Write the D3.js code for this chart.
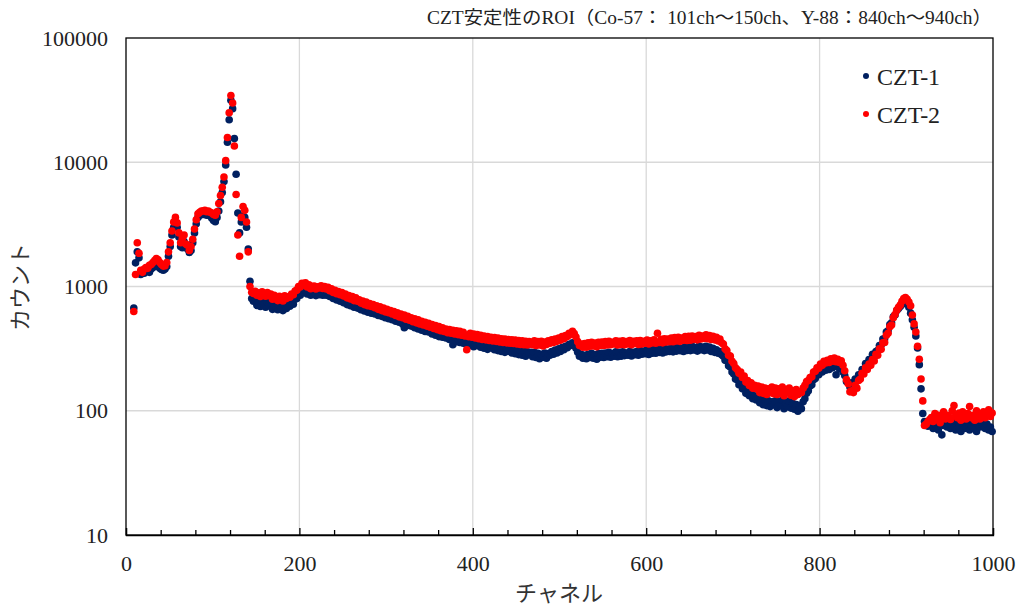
<!DOCTYPE html>
<html>
<head>
<meta charset="utf-8">
<script src="https://cdn.jsdelivr.net/npm/d3@7/dist/d3.min.js"></script>
<style>
	body { margin: 0; background: #fff; }
	svg { display: block; }
</style>
</head>
<body>
<svg id="chart" width="1022" height="609"></svg>
<script>
// Spectrum bins: every 2nd channel, starting at ch 9
var FIRST_CH = 9;
var CH_STEP = 2;

var TITLE = "CZT安定性のROI（Co-57： 101ch～150ch、Y-88：840ch～940ch）";
var SERIES_NAMES = ["CZT-1", "CZT-2"];
var SERIES_COLORS = ["#002060", "#ff0000"];
var X_TICKS = [0, 200, 400, 600, 800, 1000];
var X_MINOR = [40, 80, 120, 160, 240, 280, 320, 360, 440, 480, 520, 560, 640, 680, 720, 760, 840, 880, 920, 960];
var Y_TICKS = [10, 100, 1000, 10000, 100000];

// counts, 10 bins (20 channels) per row
var CZT1 = [
	670, 1550, 1900, 1700, 1250, 1300, 1280, 1320, 1350, 1300,
	1380, 1420, 1450, 1480, 1450, 1400, 1370, 1350, 1380, 1450,
	1750, 2100, 2600, 3000, 3200, 3000, 2500, 2100, 2050, 2300,
	2100, 2000, 1880, 1950, 2250, 2700, 3200, 3600, 3750, 3800,
	3800, 3850, 3750, 3800, 3700, 3550, 3400, 3320, 3600, 4050,
	4800, 5700, 7000, 9500, 14500, 22000, 31500, 27000, 15500, 8000,
	3900, 2700, 3300, 3700, 3600, 3000, 2000, 1100, 800, 760,
	780, 705, 745, 690, 760, 715, 680, 750, 700, 735,
	655, 720, 690, 650, 705, 675, 640, 710, 665, 700,
	695, 745, 720, 790, 800, 860, 850, 920, 895, 935,
	870, 905, 850, 880, 895, 845, 880, 860, 900, 850,
	900, 850, 880, 830, 855, 800, 835, 780, 805, 760,
	790, 740, 765, 715, 745, 700, 730, 680, 710, 670,
	690, 650, 675, 635, 665, 620, 650, 610, 640, 600,
	625, 585, 610, 575, 600, 560, 590, 550, 575, 540,
	565, 525, 555, 515, 540, 500, 465, 520, 485, 510,
	480, 505, 465, 490, 455, 480, 445, 470, 435, 460,
	430, 450, 415, 440, 405, 430, 395, 420, 390, 410,
	385, 405, 375, 395, 340, 385, 360, 380, 355, 375,
	350, 370, 340, 362, 335, 355, 328, 350, 335, 345,
	325, 345, 318, 340, 312, 335, 322, 340, 310, 330,
	305, 328, 300, 322, 295, 318, 302, 315, 292, 310,
	288, 310, 283, 305, 280, 302, 275, 298, 285, 295,
	272, 295, 268, 290, 262, 285, 270, 292, 265, 288,
	280, 300, 285, 308, 292, 315, 300, 322, 310, 330,
	322, 342, 335, 352, 340, 318, 295, 275, 285, 265,
	280, 262, 285, 268, 290, 265, 282, 260, 288, 270,
	290, 268, 292, 272, 295, 270, 288, 275, 298, 272,
	295, 275, 298, 278, 292, 280, 300, 276, 296, 282,
	300, 280, 305, 285, 302, 288, 310, 284, 306, 290,
	312, 290, 315, 295, 310, 292, 318, 298, 314, 300,
	320, 298, 322, 302, 325, 305, 318, 300, 328, 306,
	325, 305, 330, 308, 322, 302, 332, 310, 326, 305,
	330, 308, 326, 300, 318, 295, 310, 290, 300, 282,
	275, 255, 252, 230, 225, 205, 198, 180, 178, 162,
	165, 150, 152, 138, 142, 132, 138, 125, 132, 122,
	128, 116, 125, 112, 122, 110, 120, 108, 118, 112,
	120, 106, 118, 110, 122, 104, 116, 108, 120, 105,
	115, 103, 112, 99, 110, 104, 118, 125, 138, 145,
	158, 162, 178, 182, 198, 195, 210, 205, 218, 212,
	222, 215, 230, 222, 232, 195, 228, 218, 220, 205,
	192, 172, 168, 155, 168, 165, 180, 175, 195, 195,
	215, 212, 240, 232, 258, 252, 285, 275, 300, 305,
	335, 338, 378, 380, 430, 440, 495, 510, 570, 590,
	640, 665, 690, 715, 740, 750, 730, 680, 610, 540,
	470, 400, 320, 235, 150, 95, 82, 78, 75, 80,
	78, 72, 80, 75, 70, 82, 64, 76, 80, 74,
	78, 72, 82, 76, 70, 80, 74, 68, 78, 72,
	74, 80, 70, 76, 82, 72, 68, 78, 74, 80,
	76, 72, 78, 70, 74, 68
];

var CZT2 = [
	630, 1250, 2250, 1850, 1350, 1300, 1380, 1420, 1400, 1480,
	1500, 1560, 1620, 1680, 1640, 1560, 1500, 1460, 1470, 1560,
	1900, 2250, 2800, 3300, 3600, 3250, 2700, 2250, 2450, 2600,
	2200, 2150, 1950, 2100, 2400, 2900, 3450, 3850, 3950, 4050,
	4050, 4100, 4000, 4050, 3950, 3900, 3800, 3750, 4000, 4650,
	5400, 6300, 7600, 10300, 15800, 25000, 34500, 30000, 13500, 5500,
	2600, 1750, 3600, 4400, 4100, 3300, 1900, 1000, 900, 880,
	915, 850, 890, 830, 905, 860, 835, 895, 845, 870,
	790, 850, 800, 770, 835, 795, 765, 840, 800, 825,
	820, 870, 860, 920, 935, 1000, 990, 1060, 1030, 1070,
	990, 1030, 960, 1000, 1010, 955, 995, 975, 1015, 965,
	1000, 955, 985, 925, 960, 895, 930, 875, 910, 860,
	895, 840, 870, 810, 845, 795, 830, 770, 810, 760,
	780, 735, 765, 715, 750, 700, 730, 690, 715, 675,
	700, 655, 685, 640, 670, 625, 655, 615, 640, 600,
	630, 585, 615, 570, 600, 560, 590, 545, 575, 535,
	560, 520, 550, 510, 540, 500, 525, 490, 515, 480,
	505, 470, 495, 460, 485, 450, 475, 440, 465, 435,
	455, 425, 450, 420, 445, 415, 440, 410, 435, 405,
	428, 400, 310, 395, 420, 390, 415, 385, 410, 380,
	405, 375, 400, 372, 395, 368, 390, 365, 388, 362,
	385, 358, 380, 355, 378, 352, 375, 350, 372, 348,
	370, 345, 368, 342, 365, 340, 362, 338, 360, 345,
	340, 365, 335, 360, 338, 362, 332, 358, 342, 365,
	350, 372, 355, 378, 362, 385, 370, 395, 380, 402,
	395, 420, 410, 435, 418, 392, 360, 335, 345, 325,
	348, 325, 352, 330, 355, 332, 350, 328, 356, 335,
	358, 335, 360, 338, 362, 340, 355, 345, 365, 338,
	362, 342, 365, 340, 360, 345, 368, 340, 362, 348,
	365, 342, 368, 345, 362, 350, 370, 345, 366, 352,
	372, 350, 420, 355, 376, 352, 380, 358, 378, 360,
	385, 360, 388, 365, 390, 362, 385, 370, 395, 368,
	398, 370, 400, 375, 395, 372, 405, 378, 400, 382,
	408, 380, 402, 375, 398, 372, 390, 365, 378, 352,
	345, 315, 305, 280, 275, 250, 240, 222, 215, 200,
	205, 185, 190, 170, 175, 160, 168, 152, 160, 150,
	158, 140, 155, 138, 152, 135, 150, 140, 155, 137,
	152, 135, 150, 138, 155, 132, 148, 140, 152, 133,
	145, 130, 148, 135, 142, 140, 152, 160, 172, 175,
	185, 188, 205, 208, 222, 220, 238, 232, 250, 242,
	255, 245, 262, 250, 265, 248, 260, 245, 252, 232,
	210, 178, 165, 142, 145, 140, 160, 152, 175, 180,
	200, 198, 222, 215, 238, 232, 258, 252, 285, 280,
	315, 312, 352, 355, 405, 420, 475, 490, 560, 595,
	645, 680, 708, 760, 800, 816, 790, 750, 700, 590,
	500, 430, 330, 260, 180, 120, 76, 78, 82, 85,
	88, 82, 95, 85, 92, 80, 90, 98, 86, 92,
	90, 85, 100, 110, 92, 88, 96, 84, 98, 90,
	86, 95, 108, 88, 92, 84, 100, 90, 86, 94,
	98, 88, 92, 102, 90, 96
];


var LATIN_FONT = "'Liberation Serif', 'DejaVu Serif', serif";
var JP_FONT = "'Noto Sans CJK JP', sans-serif";

function drawChart() {
	var svg = d3.select("#chart"),
		margin = { top: 38, right: 29, bottom: 74, left: 126 },
		width = +svg.attr("width") - margin.left - margin.right,
		height = +svg.attr("height") - margin.top - margin.bottom,
		g = svg.append("g").attr("transform", "translate(" + margin.left + "," + margin.top + ")");

	var x = d3.scaleLinear().domain([0, 1000]).range([0, width]);
	var y = d3.scaleLog().domain([10, 100000]).range([height, 0]);

	// gridlines
	g.append("g")
		.selectAll("line")
		.data(Y_TICKS.slice(1, -1))
		.enter().append("line")
			.attr("x1", 0).attr("x2", width)
			.attr("y1", function(d) { return y(d); })
			.attr("y2", function(d) { return y(d); })
			.attr("stroke", "#d9d9d9")
			.attr("stroke-width", 1.3);

	g.append("g")
		.selectAll("line")
		.data(X_TICKS.slice(1, -1))
		.enter().append("line")
			.attr("y1", 0).attr("y2", height)
			.attr("x1", function(d) { return x(d); })
			.attr("x2", function(d) { return x(d); })
			.attr("stroke", "#d9d9d9")
			.attr("stroke-width", 1.3);

	// plot frame
	g.append("rect")
		.attr("width", width)
		.attr("height", height)
		.attr("fill", "none")
		.attr("stroke", "#000")
		.attr("stroke-width", 1.3);

	// x axis: ticks point inward
	var xAxis = g.append("g")
		.attr("transform", "translate(0," + height + ")")
		.call(d3.axisBottom(x).tickValues(X_TICKS).tickSize(-7).tickPadding(20).tickFormat(d3.format("d")));

	xAxis.select(".domain").attr("stroke-width", 1.3);
	xAxis.selectAll(".tick line").attr("stroke-width", 1.3);
	xAxis.selectAll("text")
		.attr("font-family", LATIN_FONT)
		.attr("font-size", 22)
		.attr("fill", "#222");

	var xMinor = g.append("g")
		.attr("transform", "translate(0," + height + ")")
		.call(d3.axisBottom(x).tickValues(X_MINOR).tickSize(-5).tickFormat(""));
	xMinor.select(".domain").remove();
	xMinor.selectAll(".tick line").attr("stroke-width", 1.3);

	// y axis labels only
	var yAxis = g.append("g")
		.call(d3.axisLeft(y).tickValues(Y_TICKS).tickSize(0).tickPadding(18).tickFormat(d3.format("d")));
	yAxis.select(".domain").remove();
	yAxis.selectAll("text")
		.attr("font-family", LATIN_FONT)
		.attr("font-size", 22)
		.attr("fill", "#222");

	// points, CZT-1 underneath CZT-2
	var allSeries = [CZT1, CZT2];
	for (var s = 0; s < allSeries.length; s++) {
		g.append("g")
			.attr("fill", SERIES_COLORS[s])
			.selectAll("circle")
			.data(allSeries[s])
			.enter().append("circle")
				.attr("cx", function(d, i) { return x(FIRST_CH + i * CH_STEP); })
				.attr("cy", function(d) { return y(d); })
				.attr("r", 3.8);
	}

	// legend
	var legend = svg.append("g");
	for (var s = 0; s < SERIES_NAMES.length; s++) {
		legend.append("circle")
			.attr("cx", 866)
			.attr("cy", 76 + s * 38)
			.attr("r", 3)
			.attr("fill", SERIES_COLORS[s]);
		legend.append("text")
			.attr("x", 877)
			.attr("y", 85 + s * 38)
			.attr("font-family", LATIN_FONT)
			.attr("font-size", 24)
			.attr("fill", "#222")
			.text(SERIES_NAMES[s]);
	}

	// title
	svg.append("text")
		.attr("x", 992)
		.attr("y", 24)
		.attr("text-anchor", "end")
		.attr("font-family", LATIN_FONT + ", " + JP_FONT)
		.attr("font-size", 18)
		.attr("textLength", 565)
		.attr("lengthAdjust", "spacingAndGlyphs")
		.attr("fill", "#222")
		.text(TITLE);

	// axis titles
	svg.append("text")
		.attr("x", 559)
		.attr("y", 601)
		.attr("text-anchor", "middle")
		.attr("font-family", JP_FONT)
		.attr("font-size", 22)
		.attr("fill", "#333")
		.text("チャネル");

	svg.append("text")
		.attr("transform", "translate(28,287) rotate(-90)")
		.attr("text-anchor", "middle")
		.attr("font-family", JP_FONT)
		.attr("font-size", 22)
		.attr("fill", "#333")
		.text("カウント");
}

drawChart();
</script>
</body>
</html>
